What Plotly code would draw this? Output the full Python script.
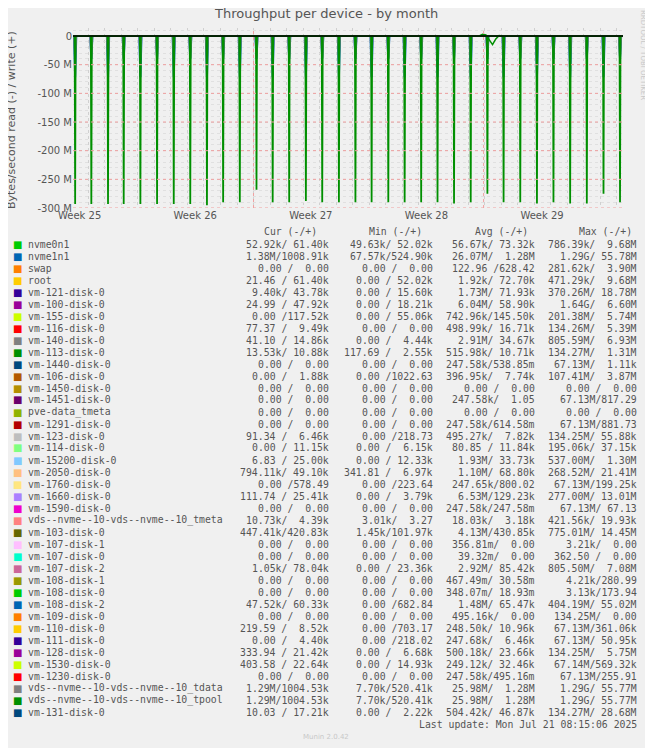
import plotly.graph_objects as go

# spike times (days from left edge) and read depths (M bytes/s)
spike_day = [0.13, 1.11, 2.12, 3.07, 4.08, 5.09, 6.10, 7.10, 8.11, 9.09, 10.10, 11.11, 12.09,
             13.09, 14.10, 15.09, 16.10, 17.10, 18.08, 19.09, 20.08, 21.08, 22.07, 23.07, 24.08,
             25.09, 26.07, 27.08, 28.09, 29.09, 30.10, 31.11, 32.12, 33.12]
spike_depth = [293, 293, 293, 293, 293, 293, 293, 293, 295, 290, 290, 268, 290, 290, 288, 290,
               290, 290, 290, 290, 290, 290, 290, 292, 290, 275, 290, 290, 292, 290, 292, 292,
               275, 290]
blue_depth = [72, 40, 72, 40, 72, 40, 72, 40, 72, 40, 72, 40, 72, 40, 72, 40, 72, 40, 72, 40,
              72, 40, 72, 40, 72, 40, 72, 40, 72, 40, 72, 40, 72, 40]
# small wobble of the write side around week 28
wob_day = [24.6, 24.8, 25.0, 25.2, 25.4, 25.6, 25.8, 26.0]
wob_val = [0, 3, 2, -6, -15, -5, 1, 0]

week_day = [0.4, 7.4, 14.4, 21.4, 28.4]
week_lbl = ['Week 25', 'Week 26', 'Week 27', 'Week 28', 'Week 29']
red_day = [10.93, 24.86]

y_vals = [0, -50, -100, -150, -200, -250, -300]
y_lbl = ['0', '-50 M', '-100 M', '-150 M', '-200 M', '-250 M', '-300 M']

names = ['nvme0n1', 'nvme1n1', 'swap', 'root', 'vm-121-disk-0', 'vm-100-disk-0', 'vm-155-disk-0',
         'vm-116-disk-0', 'vm-140-disk-0', 'vm-113-disk-0', 'vm-1440-disk-0', 'vm-106-disk-0',
         'vm-1450-disk-0', 'vm-1451-disk-0', 'pve-data_tmeta', 'vm-1291-disk-0', 'vm-123-disk-0',
         'vm-114-disk-0', 'vm-15200-disk-0', 'vm-2050-disk-0', 'vm-1760-disk-0', 'vm-1660-disk-0',
         'vm-1590-disk-0', 'vds--nvme--10-vds--nvme--10_tmeta', 'vm-103-disk-0', 'vm-107-disk-1',
         'vm-107-disk-0', 'vm-107-disk-2', 'vm-108-disk-1', 'vm-108-disk-0', 'vm-108-disk-2',
         'vm-109-disk-0', 'vm-110-disk-0', 'vm-111-disk-0', 'vm-128-disk-0', 'vm-1530-disk-0',
         'vm-1230-disk-0', 'vds--nvme--10-vds--nvme--10_tdata', 'vds--nvme--10-vds--nvme--10_tpool',
         'vm-131-disk-0']
cur = ['52.92k/ 61.40k', '1.38M/1008.91k', '0.00 /  0.00', '21.46 / 61.40k', '9.40k/ 43.78k',
       '24.99 / 47.92k', '0.00 /117.52k', '77.37 /  9.49k', '41.10 / 14.86k', '13.53k/ 10.88k',
       '0.00 /  0.00', '0.00 /  1.88k', '0.00 /  0.00', '0.00 /  0.00', '0.00 /  0.00',
       '0.00 /  0.00', '91.34 /  6.46k', '0.00 / 11.15k', '6.83 / 25.00k', '794.11k/ 49.10k',
       '0.00 /578.49', '111.74 / 25.41k', '0.00 /  0.00', '10.73k/  4.39k', '447.41k/420.83k',
       '0.00 /  0.00', '0.00 /  0.00', '1.05k/ 78.04k', '0.00 /  0.00', '0.00 /  0.00',
       '47.52k/ 60.33k', '0.00 /  0.00', '219.59 /  8.52k', '0.00 /  4.40k', '333.94 / 21.42k',
       '403.58 / 22.64k', '0.00 /  0.00', '1.29M/1004.53k', '1.29M/1004.53k', '10.03 / 17.21k']
mn = ['49.63k/ 52.02k', '67.57k/524.90k', '0.00 /  0.00', '0.00 / 52.02k', '0.00 / 15.60k',
      '0.00 / 18.21k', '0.00 / 55.06k', '0.00 /  0.00', '0.00 /  4.44k', '117.69 /  2.55k',
      '0.00 /  0.00', '0.00 /1022.63', '0.00 /  0.00', '0.00 /  0.00', '0.00 /  0.00',
      '0.00 /  0.00', '0.00 /218.73', '0.00 /  6.15k', '0.00 / 12.33k', '341.81 /  6.97k',
      '0.00 /223.64', '0.00 /  3.79k', '0.00 /  0.00', '3.01k/  3.27', '1.45k/101.97k',
      '0.00 /  0.00', '0.00 /  0.00', '0.00 / 23.36k', '0.00 /  0.00', '0.00 /  0.00',
      '0.00 /682.84', '0.00 /  0.00', '0.00 /703.17', '0.00 /218.02', '0.00 /  6.68k',
      '0.00 / 14.93k', '0.00 /  0.00', '7.70k/520.41k', '7.70k/520.41k', '0.00 /  2.22k']
avg = ['56.67k/ 73.32k', '26.07M/  1.28M', '122.96 /628.42', '1.92k/ 72.70k', '1.73M/ 71.93k',
       '6.04M/ 58.90k', '742.96k/145.50k', '498.99k/ 16.71k', '2.91M/ 34.67k', '515.98k/ 10.71k',
       '247.58k/538.85m', '396.95k/  7.74k', '0.00 /  0.00', '247.58k/  1.05', '0.00 /  0.00',
       '247.58k/614.58m', '495.27k/  7.82k', '80.85 / 11.84k', '1.93M/ 33.73k', '1.10M/ 68.80k',
       '247.65k/800.02', '6.53M/129.23k', '247.58k/247.58m', '18.03k/  3.18k', '4.13M/430.85k',
       '356.81m/  0.00', '39.32m/  0.00', '2.92M/ 85.42k', '467.49m/ 30.58m', '348.07m/ 18.93m',
       '1.48M/ 65.47k', '495.16k/  0.00', '248.50k/ 10.96k', '247.68k/  6.46k', '500.18k/ 23.66k',
       '249.12k/ 32.46k', '247.58k/495.16m', '25.98M/  1.28M', '25.98M/  1.28M', '504.42k/ 46.87k']
mx = ['786.39k/  9.68M', '1.29G/ 55.78M', '281.62k/  3.90M', '471.29k/  9.68M', '370.26M/ 18.78M',
      '1.64G/  6.60M', '201.38M/  5.74M', '134.26M/  5.39M', '805.59M/  6.93M', '134.27M/  1.31M',
      '67.13M/  1.11k', '107.41M/  3.87M', '0.00 /  0.00', '67.13M/817.29', '0.00 /  0.00',
      '67.13M/881.73', '134.25M/ 55.88k', '195.06k/ 37.15k', '537.00M/  1.30M', '268.52M/ 21.41M',
      '67.13M/199.25k', '277.00M/ 13.01M', '67.13M/ 67.13', '421.56k/ 19.93k', '775.01M/ 14.45M',
      '3.21k/  0.00', '362.50 /  0.00', '805.50M/  7.08M', '4.21k/280.99', '3.13k/173.94',
      '404.19M/ 55.02M', '134.25M/  0.00', '67.13M/361.06k', '67.13M/ 50.95k', '134.25M/  5.75M',
      '67.14M/569.32k', '67.13M/255.91', '1.29G/ 55.77M', '1.29G/ 55.77M', '134.27M/ 28.68M']
colors = ['#00CC00', '#0066B3', '#FF8000', '#FFCC00', '#330099', '#990099', '#CCFF00', '#FF0000',
          '#808080', '#008F00', '#00487D', '#B35A00', '#B38F00', '#6B006B', '#8FB300', '#B30000',
          '#BEBEBE', '#80FF80', '#80C9FF', '#FFC080', '#FFE680', '#AA80FF', '#EE00CC', '#FF8080',
          '#666600', '#FFBFFF', '#00FFCC', '#CC6699', '#999900', '#00CC00', '#0066B3', '#FF8000',
          '#FFCC00', '#330099', '#990099', '#CCFF00', '#FF0000', '#808080', '#008F00', '#00487D']

OFF = 8                              # page body margin
W, H = 653 - OFF, 748 - OFF
PL, PR, PT, PB = 73 - OFF, 623 - OFF, 28 - OFF, 208 - OFF   # plot area in figure pixels


def spikes(days, depths, w):
    xs, ys = [0], [0]
    for t, d in zip(days, depths):
        xs += [t - w, t, t + w]
        ys += [0, -d, 0]
    xs.append(33.3)
    ys.append(0)
    return xs, ys


fig = go.Figure()
bx, by = spikes(spike_day, blue_depth, 0.07)
fig.add_trace(go.Scatter(x=bx, y=by, mode='lines', line=dict(color='#0066B3', width=2)))
gx2, gy2 = spikes(spike_day, [d * 0.13 for d in spike_depth], 0.06)
fig.add_trace(go.Scatter(x=gx2, y=gy2, mode='lines', line=dict(color='#808080', width=2)))
gx, gy = spikes(spike_day, spike_depth, 0.03)
fig.add_trace(go.Scatter(x=gx, y=gy, mode='lines', line=dict(color='#008F00', width=1.8)))
fig.add_trace(go.Scatter(x=wob_day, y=wob_val, mode='lines', line=dict(color='#008F00', width=1.5)))
fig.add_trace(go.Scatter(x=[0, 33.3], y=[0, 0], mode='lines', line=dict(color='#000000', width=1.5)))

shapes = []
for d in red_day:
    shapes.append(dict(type='line', xref='x', yref='y', x0=d, x1=d, y0=-300, y1=14,
                       line=dict(color='#F0A0A0', width=1, dash='dot')))
for v in y_vals[1:]:
    shapes.append(dict(type='line', xref='x', yref='y', x0=0, x1=33.3, y0=v, y1=v,
                       line=dict(color='#F0A0A0', width=1, dash='dot')))

ann = [
    dict(text='Throughput per device - by month', x=326, y=13, font=dict(size=13, color='#555')),
    dict(text='Bytes/second read (-) / write (+)', x=11, y=120, textangle=-90,
         font=dict(size=11, color='#555')),
    dict(text='RRDTOOL / TOBI OETIKER', x=643, y=55, textangle=90,
         font=dict(size=7, color='#C8C8C8')),
    dict(text='Munin 2.0.42', x=326, y=737, font=dict(size=7, color='#C8C8C8')),
]
mono = dict(family='DejaVu Sans Mono', size=9.8, color='#555')
for hx, h in zip([290, 395, 501, 605], ['Cur (-/+)', 'Min (-/+)', 'Avg (-/+)', 'Max (-/+)']):
    ann.append(dict(text=h.replace(' ', '\u00a0'), x=hx, y=231, font=mono))
for i, nm in enumerate(names):
    y = 244 + i * 12.0
    ann.append(dict(text='\u25a0', x=17, y=y, font=dict(size=10, color=colors[i])))
    ann.append(dict(text=nm, x=26, y=y, xanchor='left', font=mono))
    for rx, col in zip([331, 435, 537, 639], [cur, mn, avg, mx]):
        ann.append(dict(text=col[i].replace(' ', '\u00a0'), x=rx, y=y, xanchor='right', font=mono))
ann.append(dict(text='Last\u00a0update:\u00a0Mon\u00a0Jul\u00a021\u00a008:15:06\u00a02025',
                x=639, y=724, xanchor='right', font=mono))
for a in ann:
    a.setdefault('xanchor', 'center')
    a.update(xref='paper', yref='paper', showarrow=False, yanchor='middle')
    a['x'] = (a['x'] - OFF - PL) / (PR - PL)
    a['y'] = (PB - (a['y'] - OFF)) / (PB - PT)

fig.update_layout(
    width=W, height=H, margin=dict(l=PL, r=W - PR, t=PT, b=H - PB),
    paper_bgcolor='#F0F0F0', plot_bgcolor='#F0F0F0', showlegend=False,
    font=dict(family='DejaVu Sans', size=10, color='#555'),
    xaxis=dict(range=[0, 33.3], tickmode='array', tickvals=week_day, ticktext=week_lbl,
               showgrid=False, zeroline=False, ticks='', tickfont=dict(size=10)),
    yaxis=dict(range=[-300, 14], tickmode='array', tickvals=y_vals, ticktext=y_lbl,
               showgrid=True, gridcolor='#D8D8D8', griddash='dot', zeroline=False,
               minor=dict(dtick=10, showgrid=True, gridcolor='#E0E0E0', griddash='dot'),
               tickfont=dict(size=10)),
    shapes=shapes, annotations=ann,
)
fig.update_xaxes(minor=dict(tick0=0.93, dtick=1, showgrid=True, gridcolor='#D0D0D0', griddash='dot'))
fig.write_html('out.html')
